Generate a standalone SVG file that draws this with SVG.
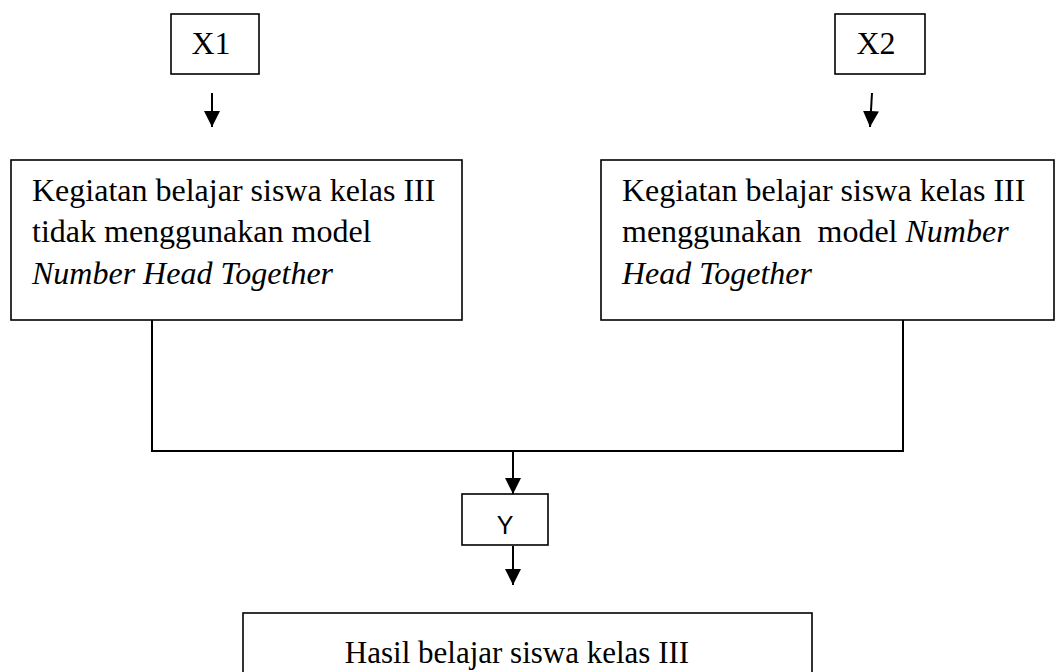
<svg xmlns="http://www.w3.org/2000/svg" width="1057" height="672" viewBox="0 0 1057 672">
<style>
.box{fill:#fff;stroke:#000;stroke-width:1.6}
.t{font-family:"Liberation Serif","Times New Roman",serif;font-size:32px;fill:#000}
.i{font-style:italic}
.c{stroke:#000;stroke-width:2;fill:none}
</style>
<defs>
<marker id="ah" markerWidth="16" markerHeight="16" refX="16" refY="8" orient="auto" markerUnits="userSpaceOnUse">
<path d="M0,0 L16,8 L0,16 Z" fill="#000"/>
</marker>
</defs>
<rect width="1057" height="672" fill="#fff"/>
<g id="connectors">
<line class="c" x1="212" y1="93" x2="212" y2="127" marker-end="url(#ah)"/>
<line class="c" x1="872" y1="93" x2="870" y2="127" marker-end="url(#ah)"/>
<polyline class="c" points="152,320 152,451 903,451 903,320"/>
<line class="c" x1="513" y1="451" x2="513" y2="494" marker-end="url(#ah)"/>
<line class="c" x1="513" y1="546" x2="513" y2="585" marker-end="url(#ah)"/>
</g>
<g id="x1">
<rect class="box" x="171" y="14" width="88" height="60"/>
<text class="t" x="211" y="54" text-anchor="middle">X1</text>
</g>
<g id="x2">
<rect class="box" x="835" y="14" width="90" height="60"/>
<text class="t" x="876" y="54" text-anchor="middle">X2</text>
</g>
<g id="left">
<rect class="box" x="11" y="160" width="451" height="160"/>
<text class="t" x="32" y="201">Kegiatan belajar siswa kelas III</text>
<text class="t" x="32" y="242">tidak menggunakan model</text>
<text class="t i" x="32" y="284">Number Head Together</text>
</g>
<g id="right">
<rect class="box" x="601" y="160" width="453" height="160"/>
<text class="t" x="622" y="201">Kegiatan belajar siswa kelas III</text>
<text class="t" x="622" y="242" xml:space="preserve">menggunakan  model <tspan class="i">Number</tspan></text>
<text class="t i" x="622" y="284">Head Together</text>
</g>
<g id="y">
<rect class="box" x="462" y="494" width="86" height="51"/>
<text x="505" y="534" text-anchor="middle" font-family="Liberation Sans, Arial, sans-serif" font-size="25" fill="#000">Y</text>
</g>
<g id="hasil">
<rect class="box" x="243" y="613" width="569" height="80"/>
<text class="t" x="517" y="663" text-anchor="middle" style="font-size:31px">Hasil belajar siswa kelas III</text>
</g>
</svg>
